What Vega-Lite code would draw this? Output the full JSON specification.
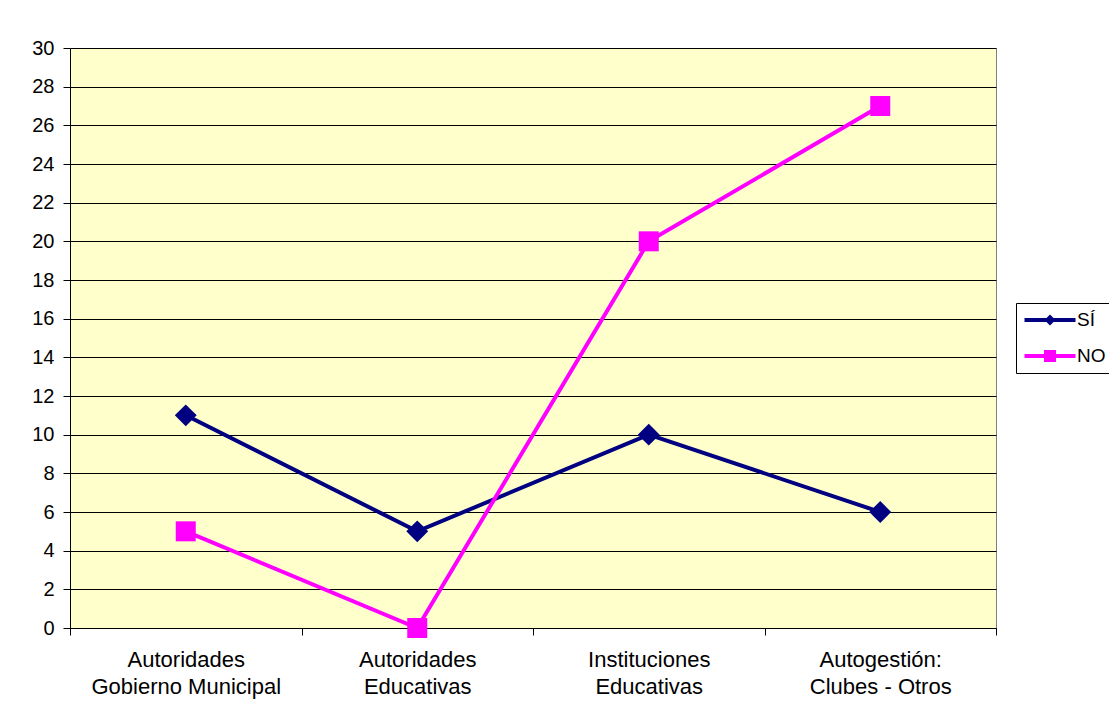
{
  "$schema": "https://vega.github.io/schema/vega-lite/v6.json",
  "width": 926,
  "height": 580,
  "autosize": "none",
  "padding": {"left": 70, "top": 48, "right": 113, "bottom": 91},
  "background": "white",
  "config": {
    "font": "Liberation Sans",
    "view": {"fill": "#FFFFCC", "stroke": "#808080", "strokeWidth": 1}
  },
  "data": {
    "values": [
      {"categoria": "Autoridades\nGobierno Municipal", "serie": "SÍ", "valor": 11},
      {"categoria": "Autoridades\nEducativas", "serie": "SÍ", "valor": 5},
      {"categoria": "Instituciones\nEducativas", "serie": "SÍ", "valor": 10},
      {"categoria": "Autogestión:\nClubes - Otros", "serie": "SÍ", "valor": 6},
      {"categoria": "Autoridades\nGobierno Municipal", "serie": "NO", "valor": 5},
      {"categoria": "Autoridades\nEducativas", "serie": "NO", "valor": 0},
      {"categoria": "Instituciones\nEducativas", "serie": "NO", "valor": 20},
      {"categoria": "Autogestión:\nClubes - Otros", "serie": "NO", "valor": 27}
    ]
  },
  "encoding": {
    "x": {
      "field": "categoria",
      "type": "nominal",
      "sort": null,
      "scale": {"type": "band", "paddingInner": 0, "paddingOuter": 0},
      "axis": {
        "title": null,
        "labelAngle": 0,
        "labelExpr": "split(datum.label, '\\n')",
        "labelFontSize": 22,
        "labelLimit": 0,
        "labelColor": "black",
        "labelPadding": 14,
        "labelLineHeight": 27,
        "labelBaseline": "top",
        "tickBand": "extent",
        "tickSize": 7,
        "tickColor": "black",
        "domainColor": "black",
        "grid": false
      }
    },
    "y": {
      "field": "valor",
      "type": "quantitative",
      "scale": {"domain": [0, 30], "nice": false},
      "axis": {
        "title": null,
        "values": [0, 2, 4, 6, 8, 10, 12, 14, 16, 18, 20, 22, 24, 26, 28, 30],
        "labelFontSize": 20,
        "labelColor": "black",
        "labelPadding": 9,
        "tickSize": 7,
        "tickColor": "black",
        "domainColor": "black",
        "grid": true,
        "gridColor": "black",
        "gridOpacity": 1,
        "gridWidth": 1
      }
    }
  },
  "layer": [
    {
      "mark": {"type": "line", "strokeWidth": 4},
      "encoding": {
        "detail": {"field": "serie", "type": "nominal"},
        "color": {
          "condition": {"test": "datum.serie === 'SÍ'", "value": "#000080"},
          "value": "#FF00FF"
        }
      }
    },
    {
      "mark": {"type": "point", "filled": true, "opacity": 1},
      "encoding": {
        "color": {
          "condition": {"test": "datum.serie === 'SÍ'", "value": "#000080"},
          "value": "#FF00FF"
        },
        "shape": {
          "condition": {"test": "datum.serie === 'SÍ'", "value": "diamond"},
          "value": "square"
        },
        "size": {
          "condition": {"test": "datum.serie === 'SÍ'", "value": 480},
          "value": 400
        }
      }
    },
    {
      "transform": [{"filter": "false"}],
      "mark": {"type": "point", "filled": true, "opacity": 1},
      "encoding": {
        "color": {
          "field": "serie",
          "type": "nominal",
          "scale": {"domain": ["SÍ", "NO"], "range": ["#000080", "#FF00FF"]},
          "legend": {
            "title": null,
            "orient": "none",
            "legendX": 946,
            "legendY": 255,
            "padding": 7,
            "strokeColor": "black",
            "fillColor": "white",
            "symbolSize": 400,
            "symbolStrokeWidth": 0,
            "symbolOffset": 17,
            "labelFontSize": 19,
            "labelColor": "black",
            "labelOffset": 17,
            "rowPadding": 16
          }
        },
        "shape": {
          "field": "serie",
          "type": "nominal",
          "scale": {
            "domain": ["SÍ", "NO"],
            "range": [
              "M-2.55,-0.2H2.55V0.2H-2.55Z M-0.55,0L0,-0.55L0.55,0L0,0.55Z",
              "M-2.55,-0.2H2.55V0.2H-2.55Z M-0.6,-0.6H0.6V0.6H-0.6Z"
            ]
          },
          "legend": {
            "title": null,
            "orient": "none",
            "legendX": 946,
            "legendY": 255,
            "padding": 7,
            "strokeColor": "black",
            "fillColor": "white",
            "symbolSize": 400,
            "symbolStrokeWidth": 0,
            "symbolOffset": 17,
            "labelFontSize": 19,
            "labelColor": "black",
            "labelOffset": 17,
            "rowPadding": 16
          }
        }
      }
    }
  ]
}
